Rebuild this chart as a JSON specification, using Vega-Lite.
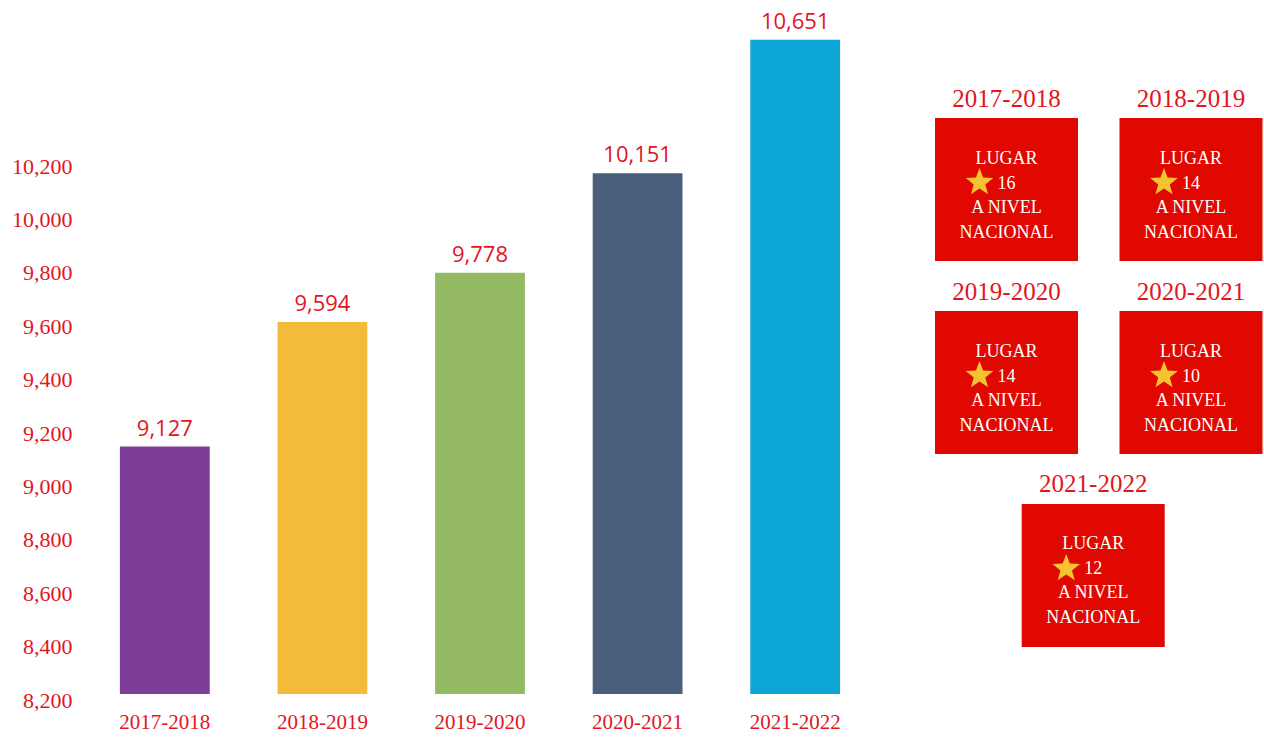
{
  "$schema": "https://vega.github.io/schema/vega-lite/v6.json",
  "padding": {"left": 11, "top": 0, "right": 0, "bottom": 0},
  "spacing": 0,
  "config": {"view": {"stroke": null}},
  "hconcat": [
    {
      "width": 788,
      "height": 694,
      "data": {"values": [
        {"periodo": "2017-2018", "matricula": 9127},
        {"periodo": "2018-2019", "matricula": 9594},
        {"periodo": "2019-2020", "matricula": 9778},
        {"periodo": "2020-2021", "matricula": 10151},
        {"periodo": "2021-2022", "matricula": 10651}
      ]},
      "encoding": {
        "x": {"field": "periodo", "type": "nominal", "sort": null,
          "scale": {"paddingInner": 0.43, "paddingOuter": 0.215},
          "axis": {"title": null, "labelAngle": 0, "domain": false, "ticks": false,
            "labelFont": "Liberation Serif", "labelFontSize": 21, "labelColor": "#E3151F", "labelPadding": 17}},
        "y": {"field": "matricula", "type": "quantitative",
          "scale": {"domain": [8200, 10800], "nice": false, "zero": false},
          "axis": {"title": null, "values": [8200, 8400, 8600, 8800, 9000, 9200, 9400, 9600, 9800, 10000, 10200],
            "format": ",.0f", "grid": false, "domain": false, "ticks": false, "labelOffset": 6,
            "labelFont": "Liberation Serif", "labelFontSize": 22, "labelColor": "#E3151F", "labelPadding": 14}}
      },
      "layer": [
        {"mark": {"type": "bar", "clip": true},
         "encoding": {"color": {"field": "periodo", "type": "nominal", "legend": null,
           "scale": {"domain": ["2017-2018", "2018-2019", "2019-2020", "2020-2021", "2021-2022"],
                     "range": ["#7B3D96", "#F4BB3A", "#94BB63", "#4A5F7B", "#0CA5D6"]}}}},
        {"mark": {"type": "text", "baseline": "alphabetic", "dy": -11, "font": "Open Sans", "fontSize": 22, "color": "#E3151F"},
         "encoding": {"text": {"field": "matricula", "type": "quantitative", "format": ",.0f"}}}
      ]
    },
    {
      "width": 390,
      "height": 694,
      "data": {"values": [
        {"periodo": "2017-2018", "col": 1, "fila": 1, "lugar": "16"},
        {"periodo": "2018-2019", "col": 2, "fila": 1, "lugar": "14"},
        {"periodo": "2019-2020", "col": 1, "fila": 2, "lugar": "14"},
        {"periodo": "2020-2021", "col": 2, "fila": 2, "lugar": "10"},
        {"periodo": "2021-2022", "col": 1.47, "fila": 3, "lugar": "12"}
      ]},
      "encoding": {
        "x": {"field": "col", "type": "quantitative", "scale": {"domain": [0.2818, 2.3957], "nice": false, "zero": false}, "axis": null},
        "y": {"field": "fila", "type": "quantitative", "scale": {"domain": [0.0181, 3.614], "nice": false, "zero": false, "reverse": true}, "axis": null}
      },
      "layer": [
        {"mark": {"type": "point", "shape": "square", "size": 20449, "filled": true, "opacity": 1, "color": "#E00800"}},
        {"mark": {"type": "text", "dy": -91, "font": "Liberation Serif", "fontSize": 25, "color": "#E3151F"},
         "encoding": {"text": {"field": "periodo", "type": "nominal"}}},
        {"mark": {"type": "text", "dy": -31, "text": "LUGAR", "font": "Liberation Serif", "fontSize": 18, "color": "white"}},
        {"mark": {"type": "point", "shape": "M0,-1 L0.247,-0.34 L0.951,-0.309 L0.399,0.13 L0.588,0.809 L0,0.42 L-0.588,0.809 L-0.399,0.13 L-0.951,-0.309 L-0.247,-0.34 Z", "size": 841, "filled": true, "opacity": 1, "color": "#F4C430", "xOffset": -27, "yOffset": -7}},
        {"mark": {"type": "text", "dy": -6, "font": "Liberation Serif", "fontSize": 18, "color": "white"},
         "encoding": {"text": {"field": "lugar", "type": "nominal"}}},
        {"mark": {"type": "text", "dy": 18, "text": "A NIVEL", "font": "Liberation Serif", "fontSize": 18, "color": "white"}},
        {"mark": {"type": "text", "dy": 43, "text": "NACIONAL", "font": "Liberation Serif", "fontSize": 18, "color": "white"}}
      ]
    }
  ]
}
